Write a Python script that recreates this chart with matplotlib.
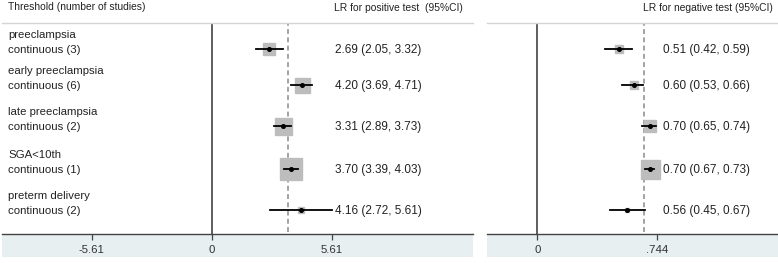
import matplotlib
matplotlib.use("Agg")
import matplotlib.pyplot as plt

plt.rcParams['font.family'] = ['Liberation Sans', 'DejaVu Sans']

# ---------------- data ----------------
outcomes = ["preeclampsia", "early preeclampsia", "late preeclampsia", "SGA<10th", "preterm delivery"]
n_studies = [3, 6, 2, 1, 2]

plr = [2.69, 4.20, 3.31, 3.70, 4.16]
plr_lo = [2.05, 3.69, 2.89, 3.39, 2.72]
plr_hi = [3.32, 4.71, 3.73, 4.03, 5.61]
plr_weight = [12, 15, 17, 22, 6]      # box size (px)
plr_pooled = 3.58

nlr = [0.51, 0.60, 0.70, 0.70, 0.56]
nlr_lo = [0.42, 0.53, 0.65, 0.67, 0.45]
nlr_hi = [0.59, 0.66, 0.74, 0.73, 0.67]
nlr_weight = [8, 8, 12, 19, 4]
nlr_pooled = 0.667

plr_ticks = [-5.61, 0, 5.61]
plr_ticklabels = ["-5.61", "0", "5.61"]
nlr_ticks = [0, 0.744]
nlr_ticklabels = ["0", ".744"]

# ---------------- layout ----------------
W, H = 778, 263
fig = plt.figure(figsize=(W / 100, H / 100), dpi=100)
row_y = [49, 85, 126, 169, 210]   # pixel rows (layout)
TOP, BOT = 23, 234


def px_rect(x0, x1, y0, y1):
    return [x0 / W, (H - y1) / H, (x1 - x0) / W, (y1 - y0) / H]


BOX_C = "#bdbdbd"
BAND_C = "#e7eff1"


def panel(x0, x1, zero_px, ppu, est, lo, hi, wts, pooled, ticks, ticklabels, val_px):
    # light band below axis (drawn first, behind everything)
    band = fig.add_axes(px_rect(x0, x1, BOT, 257))
    band.set_facecolor(BAND_C)
    band.set_xticks([])
    band.set_yticks([])
    for s in band.spines.values():
        s.set_visible(False)
    band.set_zorder(0)

    ax = fig.add_axes(px_rect(x0, x1, TOP, BOT))
    ax.set_zorder(1)
    ax.set_xlim((x0 - zero_px) / ppu, (x1 - zero_px) / ppu)
    ax.set_ylim(BOT, TOP)
    ax.patch.set_alpha(0)
    for s in ["left", "right"]:
        ax.spines[s].set_visible(False)
    ax.spines["top"].set_color("#d4d4d4")
    ax.spines["top"].set_linewidth(1.0)
    ax.spines["bottom"].set_color("#444444")
    ax.spines["bottom"].set_linewidth(1.0)
    ax.set_yticks([])
    ax.set_xticks(ticks)
    ax.set_xticklabels(ticklabels, fontsize=8.2, color="#333333")
    ax.tick_params(axis="x", direction="out", length=4, width=0.9, color="#444444", pad=4)
    ax.axvline(0, color="#333333", lw=1.1, zorder=2)
    ax.axvline(pooled, ymin=0.01, ymax=1, color="#8a8a8a", lw=1.1, ls=(0, (3.2, 2.2)), zorder=1)
    for i in range(len(est)):
        y = row_y[i]
        s = wts[i] * 0.72
        ax.plot([est[i]], [y], marker="s", ms=s, mfc=BOX_C, mec=BOX_C, zorder=3)
        ax.plot([lo[i], hi[i]], [y, y], color="black", lw=1.3, zorder=4)
        ax.plot([est[i]], [y], marker="o", ms=2.6, color="black", zorder=5)
        ax.text((val_px - zero_px) / ppu, y + 1, f"{est[i]:.2f} ({lo[i]:.2f}, {hi[i]:.2f})",
                ha="left", va="center", fontsize=8.5, color="#222222")
    return ax


axL = panel(2, 473, 211.7, 21.39, plr, plr_lo, plr_hi, plr_weight, plr_pooled,
            plr_ticks, plr_ticklabels, 335)
axR = panel(487, 778, 537.3, 160.5, nlr, nlr_lo, nlr_hi, nlr_weight, nlr_pooled,
            nlr_ticks, nlr_ticklabels, 663)

# row labels
for i, (name, n) in enumerate(zip(outcomes, n_studies)):
    y = row_y[i]
    fig.text(8 / W, 1 - (y - 14) / H, name, ha="left", va="center", fontsize=8.2, color="#222222")
    fig.text(8 / W, 1 - (y + 1) / H, f"continuous ({n})", ha="left", va="center", fontsize=8.2, color="#222222")

# headers
fig.text(8 / W, 1 - 7 / H, "Threshold (number of studies)", ha="left", va="center", fontsize=7.4, color="#222222")
fig.text(334 / W, 1 - 8 / H, "LR for positive test  (95%CI)", ha="left", va="center", fontsize=7.4, color="#222222")
fig.text(643 / W, 1 - 8 / H, "LR for negative test (95%CI)", ha="left", va="center", fontsize=7.4, color="#222222")

fig.savefig("out.png", dpi=100)
